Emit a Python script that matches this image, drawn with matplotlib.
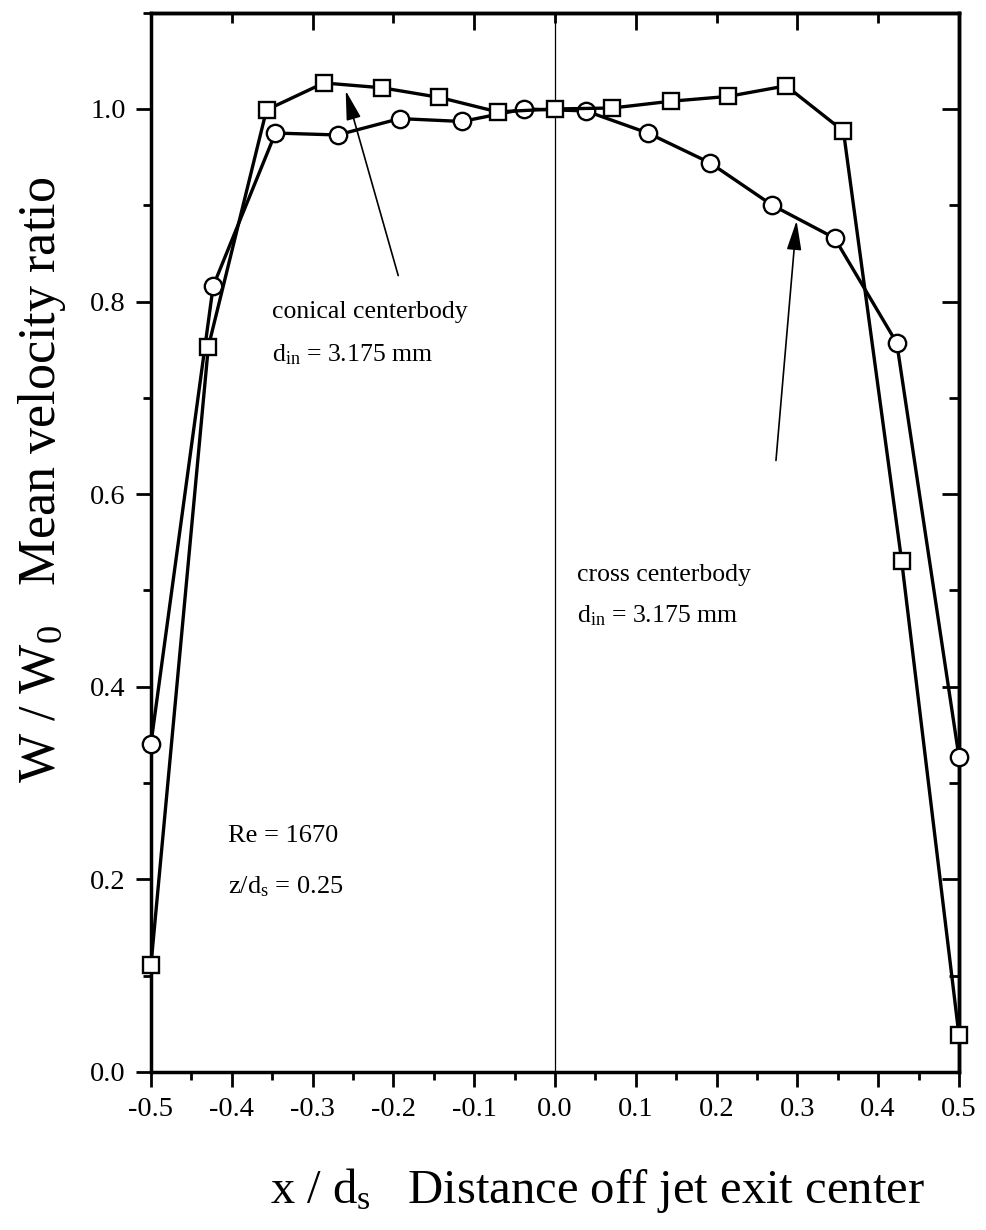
import matplotlib
matplotlib.use("Agg")
import matplotlib.pyplot as plt
from matplotlib.ticker import MultipleLocator, FixedLocator
import numpy as np

plt.rcParams['font.family'] = ['Liberation Serif', 'DejaVu Serif']
plt.rcParams['mathtext.fontset'] = 'custom'
plt.rcParams['mathtext.rm'] = 'Liberation Serif'
plt.rcParams['mathtext.it'] = 'Liberation Serif:italic'

# cross centerbody (circles)
x_cross = [-0.5, -0.423, -0.346, -0.269, -0.192, -0.115, -0.038,
           0.038, 0.115, 0.192, 0.269, 0.346, 0.423, 0.5]
w_cross = [0.341, 0.816, 0.975, 0.973, 0.990, 0.987, 1.000,
           0.998, 0.975, 0.944, 0.900, 0.866, 0.757, 0.327]

# conical centerbody (squares)
x_conical = [-0.5, -0.429, -0.357, -0.286, -0.214, -0.143, -0.071, 0.0,
             0.071, 0.143, 0.214, 0.286, 0.357, 0.429, 0.5]
w_conical = [0.111, 0.753, 0.999, 1.027, 1.022, 1.012, 0.997, 1.000,
             1.001, 1.008, 1.013, 1.024, 0.977, 0.531, 0.038]

xticks = [-0.5, -0.4, -0.3, -0.2, -0.1, 0.0, 0.1, 0.2, 0.3, 0.4, 0.5]
yticks = [0.0, 0.2, 0.4, 0.6, 0.8, 1.0]

fig = plt.figure(figsize=(9.86, 12.30), dpi=100)
ax = fig.add_axes([0.1531, 0.1285, 0.8195, 0.8612])

ax.axvline(0.0, color='black', lw=0.9, zorder=1)

ax.plot(x_cross, w_cross, '-', color='black', lw=2.4, marker='o', ms=12.5,
        mfc='white', mec='black', mew=1.7, zorder=3, clip_on=False)
ax.plot(x_conical, w_conical, '-', color='black', lw=2.4, marker='s', ms=11.5,
        mfc='white', mec='black', mew=1.7, zorder=4, clip_on=False)

ax.set_xlim(-0.5, 0.5)
ax.set_ylim(0.0, 1.1)
ax.xaxis.set_major_locator(FixedLocator(xticks))
ax.xaxis.set_minor_locator(MultipleLocator(0.05))
ax.yaxis.set_major_locator(FixedLocator(yticks))
ax.yaxis.set_minor_locator(MultipleLocator(0.1))
ax.set_xticklabels([f"{v:.1f}" for v in xticks])
ax.set_yticklabels([f"{v:.1f}" for v in yticks])

ax.tick_params(axis='both', which='major', direction='out', length=11, width=2.0,
               labelsize=20.5, pad=7)
ax.tick_params(axis='both', which='minor', direction='out', length=6, width=2.0)
for sp in ax.spines.values():
    sp.set_linewidth(2.5)

# top axis ticks (inward)
secx = ax.secondary_xaxis('top')
secx.xaxis.set_major_locator(FixedLocator([-0.5, -0.3, -0.1, 0.1, 0.3, 0.5]))
secx.xaxis.set_minor_locator(FixedLocator([-0.4, -0.2, 0.0, 0.2, 0.4]))
secx.tick_params(which='major', direction='in', length=12, width=2.0, labeltop=False)
secx.tick_params(which='minor', direction='in', length=7, width=2.0)
secx.spines['top'].set_linewidth(2.5)

secy = ax.secondary_yaxis('right')
secy.yaxis.set_major_locator(FixedLocator(yticks))
secy.yaxis.set_minor_locator(MultipleLocator(0.1))
secy.tick_params(which='major', direction='in', length=12, width=2.0, labelright=False)
secy.tick_params(which='minor', direction='in', length=7, width=2.0)
secy.spines['right'].set_linewidth(2.5)

ax.set_xlabel(r"x / d$_{\rm s}$   Distance off jet exit center", fontsize=35)
ax.xaxis.set_label_coords(0.552, -0.112)
ax.xaxis.label.set_va('center')
ax.set_ylabel(r"W / W$_{\rm 0}$   Mean velocity ratio", fontsize=37.5)
ax.yaxis.set_label_coords(-0.135, 0.559)
ax.yaxis.label.set_va('center')

fs = 18.5
ax.text(-0.350, 0.789, "conical centerbody", fontsize=fs, va='center', ha='left')
ax.text(-0.350, 0.745, r"d$_{\rm in}$ = 3.175 mm", fontsize=fs, va='center', ha='left')
ax.text(0.027, 0.516, "cross centerbody", fontsize=fs, va='center', ha='left')
ax.text(0.027, 0.474, r"d$_{\rm in}$ = 3.175 mm", fontsize=fs, va='center', ha='left')
ax.text(-0.405, 0.245, "Re = 1670", fontsize=19, va='center', ha='left')
ax.text(-0.405, 0.192, r"z/d$_{\rm s}$ = 0.25", fontsize=19, va='center', ha='left')

ap = dict(arrowstyle='-|>,head_length=1.0,head_width=0.25', color='black', lw=1.2,
          shrinkA=0, shrinkB=0, mutation_scale=18)
ax.annotate("", xy=(-0.259, 1.019), xytext=(-0.194, 0.827), arrowprops=ap)
ax.annotate("", xy=(0.299, 0.884), xytext=(0.2735, 0.635), arrowprops=ap)

fig.savefig("out.png", dpi=100)
